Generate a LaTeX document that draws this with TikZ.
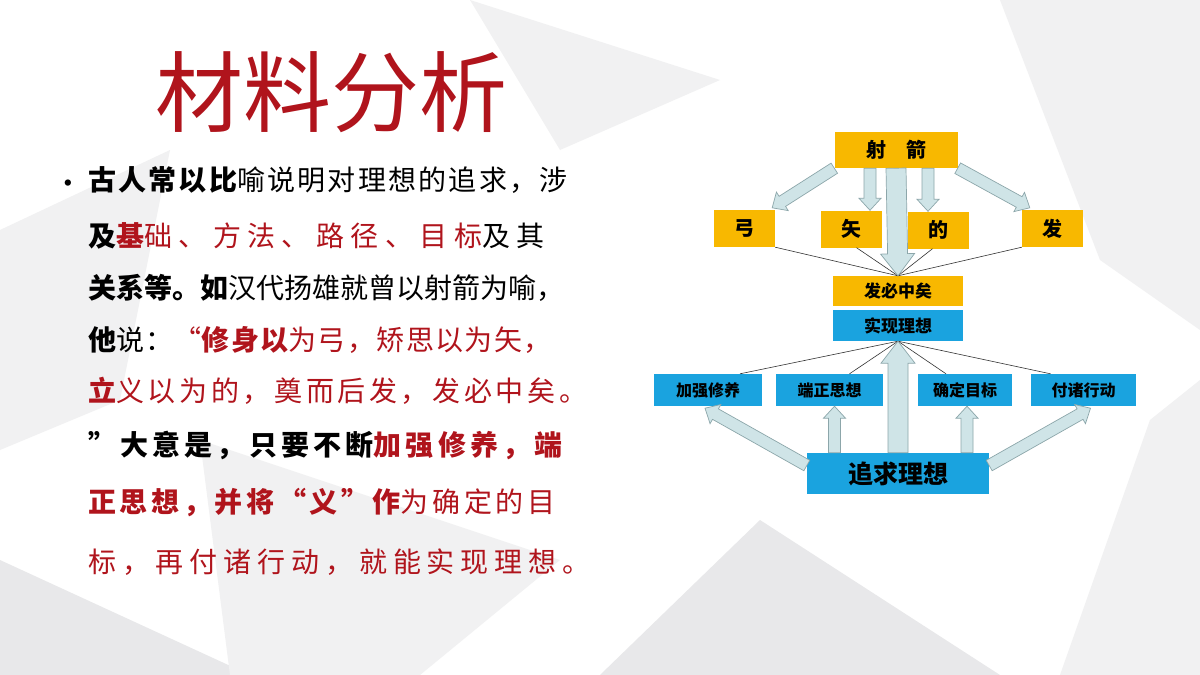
\documentclass[tikz,border=0pt]{standalone}
\usepackage{fontspec}
\newfontfamily\cjk{Noto Sans CJK SC}
\usetikzlibrary{calc}
\definecolor{org}{HTML}{F8B800}
\definecolor{blu}{HTML}{1AA3DF}
\definecolor{afill}{HTML}{CFE4E7}
\definecolor{aline}{HTML}{8CA6AA}
\definecolor{dred}{HTML}{B0141C}
\definecolor{bg1}{HTML}{F1F1F2}
\definecolor{bg2}{HTML}{E8E8EA}
\newcommand\barrow[5]{% from, to, shaft half width, head half width, head length
\fill[afill,draw=aline,line width=0.7pt] let \p1=(#1), \p2=(#2), \n1={atan2(\y2-\y1,\x2-\x1)}, \n2={veclen(\x2-\x1,\y2-\y1)-#5}, \n3={(#4-#3)*1pt} in
 ($(\p1)+(\n1+90:#3pt)$) -- ++(\n1:\n2) -- ++(\n1+90:\n3) -- (\p2)
 -- ($(\p1)+(\n1:\n2)+(\n1-90:#4pt)$) -- ++(\n1+90:\n3) -- ($(\p1)+(\n1-90:#3pt)$) -- cycle;}
\tikzset{
 box/.style={inner sep=0pt,font=\cjk\bfseries,text=black},
 obox/.style={box,fill=org,minimum height=37pt,minimum width=61pt,font=\cjk\bfseries\fontsize{20}{20}\selectfont},
 bbox/.style={box,fill=blu,minimum height=32pt,font=\cjk\bfseries\fontsize{16}{16}\selectfont},
 thin/.style={draw=black!80,line width=0.6pt},
 tl/.style={anchor=base west,inner sep=0pt,font=\cjk\fontsize{28}{28}\selectfont\addfontfeature{LetterSpace=#1}},
}
\begin{document}
\begin{tikzpicture}[x=1pt,y=-1pt]
\useasboundingbox (0,0) rectangle (1200,675);
\fill[white] (0,0) rectangle (1200,675);
\fill[bg1] (0,230) -- (170,150) -- (120,400) -- (0,450) -- cycle;
\fill[bg2] (600,675) -- (760,520) -- (1000,675) -- cycle;
\fill[bg1] (1000,0) -- (1200,0) -- (1200,330) -- (1100,260) -- cycle;
\fill[bg1] (470,0) -- (720,80) -- (560,150) -- cycle;
\fill[bg1] (1150,420) -- (1200,380) -- (1200,675) -- (1060,675) -- cycle;
\fill[bg2] (0,560) -- (250,675) -- (0,675) -- cycle;
\fill[bg1] (200,440) -- (560,560) -- (420,675) -- (230,675) -- cycle;
% title
\node[anchor=base west,inner sep=0pt,text=dred,font=\cjk\fontsize{88}{88}\selectfont] (title) at (155,125) {材料分析};
% text
\node[anchor=base,inner sep=0pt,font=\fontsize{28}{28}\selectfont] (bullet) at (68,190) {\textbullet};
\node[tl=8] (l1) at (88,190) {\bfseries 古人常以比\mdseries 喻说明对理想的追求，涉};
\node[tl=23] (l2) at (88,246) {\bfseries 及{\color{dred}基}\mdseries\color{dred}础、方法、路径、目标\color{black}及其};
\node[tl=0] (l3) at (88,298) {\bfseries 关系等。如\mdseries 汉代扬雄就曾以射箭为喻，};
\node[tl=5] (l4) at (88,350) {\bfseries 他\mdseries 说：\color{dred}“\bfseries 修身以\mdseries 为弓，矫思以为矢，};
\node[tl=13] (l5) at (88,401) {\color{dred}\bfseries 立\mdseries 义以为的，奠而后发，发必中矣。};
\node[tl=15] (l6) at (88,455) {\bfseries ”大意是，只要不断\color{dred}加强修养，端};
\node[tl=13] (l7) at (88,512) {\color{dred}\bfseries 正思想，并将“义”作\mdseries 为确定的目};
\node[tl=21] (l8) at (88,572) {\color{dred}标，再付诸行动，就能实现理想。};
% diagram boxes
\node[obox,minimum width=123pt,minimum height=36pt] (shejian) at (896,150) {射\quad 箭};
\node[obox] (gong) at (744.5,228.5) {弓};
\node[obox] (shi) at (851.5,229) {矢};
\node[obox] (di) at (938.5,230) {的};
\node[obox] (fa) at (1052.5,228.5) {发};
\node[box,fill=org,minimum width=130pt,minimum height=30pt,font=\cjk\bfseries\fontsize{17}{17}\selectfont] (fbzy) at (898,291) {发必中矣};
\node[box,fill=blu,minimum width=130pt,minimum height=31pt,font=\cjk\bfseries\fontsize{17}{17}\selectfont] (sxlx) at (898,325.5) {实现理想};
\node[bbox,minimum width=108pt] (jqxy) at (708,390) {加强修养};
\node[bbox,minimum width=107pt] (dzsx) at (829.5,390) {端正思想};
\node[bbox,minimum width=94pt] (qdmb) at (965,390) {确定目标};
\node[bbox,minimum width=105pt] (fzxd) at (1083.5,390) {付诸行动};
\node[box,fill=blu,minimum width=182pt,minimum height=41pt,font=\cjk\bfseries\fontsize{25}{25}\selectfont] (zqlx) at (898,473.5) {追求理想};
% thin lines
\coordinate (top) at (fbzy.north);
\draw[thin] (gong.south east) -- (top);
\draw[thin] ($(shi.south)+(5,0)$) -- (top);
\draw[thin] ($(di.south)+(-6,0)$) -- (top);
\draw[thin] (fa.south west) -- (top);
\coordinate (bot) at (sxlx.south);
\draw[thin] ($(jqxy.north)+(32,0)$) -- (bot);
\draw[thin] ($(dzsx.north)+(20,0)$) -- (bot);
\draw[thin] ($(qdmb.north)+(-19,0)$) -- (bot);
\draw[thin] ($(fzxd.north)+(-33,0)$) -- (bot);
% block arrows
\barrow{shejian.south}{fbzy.north}{10}{17}{22}
\barrow{$(shejian.south)+(-26,0)$}{$(shejian.south |- shi.north)+(-26,0)$}{6}{11}{12}
\barrow{$(shejian.south)+(32,0)$}{$(shejian.south |- di.north)+(32,0)$}{6}{11}{12}
\barrow{shejian.south west}{$(gong.north east)+(-3,-2)$}{6}{11}{12}
\barrow{shejian.south east}{$(fa.north west)+(8,-2)$}{6}{11}{12}
\barrow{zqlx.north}{sxlx.south}{10}{17}{22}
\barrow{$(dzsx.south |- zqlx.north)+(5,0)$}{$(dzsx.south)+(5,0)$}{6}{11}{12}
\barrow{$(qdmb.south |- zqlx.north)+(2,0)$}{$(qdmb.south)+(2,0)$}{6}{11}{12}
\barrow{$(zqlx.west)+(0,-8)$}{$(jqxy.south)+(-3,2)$}{6}{11}{12}
\barrow{$(zqlx.east)+(0,-8)$}{$(fzxd.south)+(7,2)$}{6}{11}{12}
\end{tikzpicture}
\end{document}
